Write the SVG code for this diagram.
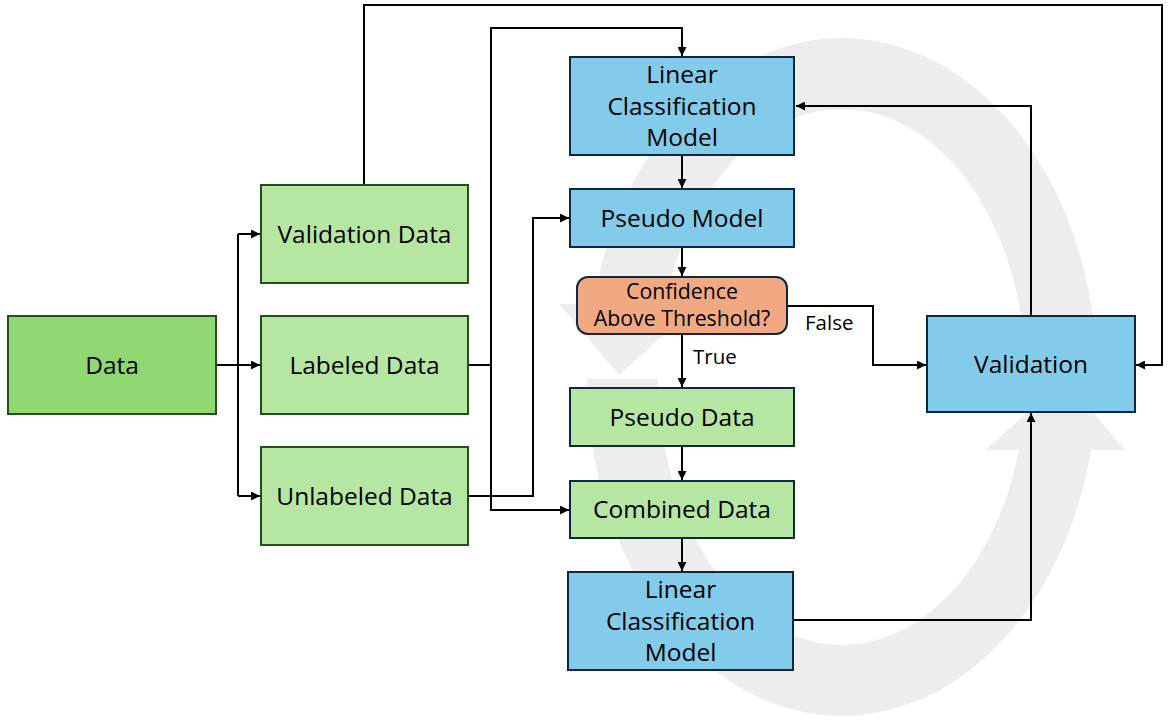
<svg xmlns="http://www.w3.org/2000/svg" width="1170" height="723" viewBox="0 0 1170 723">
  <defs>
    <marker id="arr" viewBox="0 0 10 10" markerWidth="9" markerHeight="9" markerUnits="userSpaceOnUse" refX="10" refY="5" orient="auto">
      <path d="M0,0 L10,5 L0,10 z" fill="#000"/>
    </marker>
    <style>
      .t { font-family: "Open Sans", "Noto Sans", "Liberation Sans", sans-serif; font-size: 24.5px; fill: #000; text-anchor: middle; }
      .s { font-family: "Open Sans", "Noto Sans", "Liberation Sans", sans-serif; font-size: 21.3px; fill: #000; text-anchor: middle; }
      .lbl { font-family: "Open Sans", "Noto Sans", "Liberation Sans", sans-serif; font-size: 20.5px; fill: #000; }
      .data { fill: #8fd872; stroke: #23501a; stroke-width: 2; }
      .lg { fill: #b5e6a2; stroke: #23501a; stroke-width: 2; }
      .lgn { fill: #b5e6a2; stroke: #0e2841; stroke-width: 2; }
      .blue { fill: #83cbeb; stroke: #0e2841; stroke-width: 2; }
      .dec { fill: #f1a983; stroke: #0e2841; stroke-width: 2; }
      .c { fill: none; stroke: #000; stroke-width: 2; }
      .ring { fill: #ededed; stroke: none; }
    </style>
  </defs>
  <rect width="1170" height="723" fill="#fff"/>

  <g id="background-cycle">
    <path class="ring" d="M 1097 375 A 255 339 0 0 0 593 304 L 665 304 A 184 268 0 0 1 1026 375 Z"/>
    <polygon class="ring" points="559,304 699,304 619,375"/>
    <path class="ring" d="M 587 379 A 255 339 0 0 0 1091 450 L 1019 450 A 184 268 0 0 1 658 379 Z"/>
    <polygon class="ring" points="985,450 1125,450 1065,379"/>
  </g>

  <g id="connectors">
    <path class="c" d="M216,365 H238"/>
    <path class="c" d="M238,234 V496" />
    <path class="c" d="M238,234 H260" marker-end="url(#arr)"/>
    <path class="c" d="M238,365 H260" marker-end="url(#arr)"/>
    <path class="c" d="M238,496 H260" marker-end="url(#arr)"/>
    <path class="c" d="M364,185 V5 H1162 V365 H1136" marker-end="url(#arr)"/>
    <path class="c" d="M468,365 H491 V28 H682 V56" marker-end="url(#arr)"/>
    <path class="c" d="M491,365 V510 H569" marker-end="url(#arr)"/>
    <path class="c" d="M468,496 H533 V218 H569" marker-end="url(#arr)"/>
    <path class="c" d="M682,155 V188" marker-end="url(#arr)"/>
    <path class="c" d="M682,248 V276" marker-end="url(#arr)"/>
    <path class="c" d="M682,334 V387" marker-end="url(#arr)"/>
    <path class="c" d="M787,306 H873 V365 H926" marker-end="url(#arr)"/>
    <path class="c" d="M682,447 V480" marker-end="url(#arr)"/>
    <path class="c" d="M682,539 V571" marker-end="url(#arr)"/>
    <path class="c" d="M793,620 H1031 V413" marker-end="url(#arr)"/>
    <path class="c" d="M1031,316 V106 H796" marker-end="url(#arr)"/>
    <text class="lbl" x="693" y="364">True</text>
    <text class="lbl" x="805" y="330">False</text>
  </g>

  <g id="node-data">
    <rect class="data" x="8" y="316" width="208" height="98"/>
    <text class="t" x="112" y="373.5">Data</text>
  </g>
  <g id="node-validation-data">
    <rect class="lg" x="261" y="185" width="207" height="98"/>
    <text class="t" x="364.5" y="242.5">Validation Data</text>
  </g>
  <g id="node-labeled-data">
    <rect class="lg" x="261" y="316" width="207" height="98"/>
    <text class="t" x="364.5" y="373.5">Labeled Data</text>
  </g>
  <g id="node-unlabeled-data">
    <rect class="lg" x="261" y="447" width="207" height="98"/>
    <text class="t" x="364.5" y="504.5">Unlabeled Data</text>
  </g>
  <g id="node-lcm-top">
    <rect class="blue" x="570" y="57" width="224" height="98"/>
    <text class="t" x="682" y="83">Linear</text>
    <text class="t" x="682" y="114.5">Classification</text>
    <text class="t" x="682" y="146">Model</text>
  </g>
  <g id="node-pseudo-model">
    <rect class="blue" x="570" y="189" width="224" height="58"/>
    <text class="t" x="682" y="226.5">Pseudo Model</text>
  </g>
  <g id="node-confidence">
    <rect class="dec" x="577" y="277" width="210" height="57" rx="11" ry="11"/>
    <text class="s" x="682" y="299">Confidence</text>
    <text class="s" x="682" y="325.5">Above Threshold?</text>
  </g>
  <g id="node-pseudo-data">
    <rect class="lgn" x="570" y="388" width="224" height="58"/>
    <text class="t" x="682" y="425.5">Pseudo Data</text>
  </g>
  <g id="node-combined-data">
    <rect class="lgn" x="570" y="481" width="224" height="57"/>
    <text class="t" x="682" y="518">Combined Data</text>
  </g>
  <g id="node-lcm-bottom">
    <rect class="blue" x="568" y="572" width="225" height="98"/>
    <text class="t" x="680.5" y="598">Linear</text>
    <text class="t" x="680.5" y="629.5">Classification</text>
    <text class="t" x="680.5" y="661">Model</text>
  </g>
  <g id="node-validation">
    <rect class="blue" x="927" y="316" width="208" height="96"/>
    <text class="t" x="1031" y="372.5">Validation</text>
  </g>
</svg>
